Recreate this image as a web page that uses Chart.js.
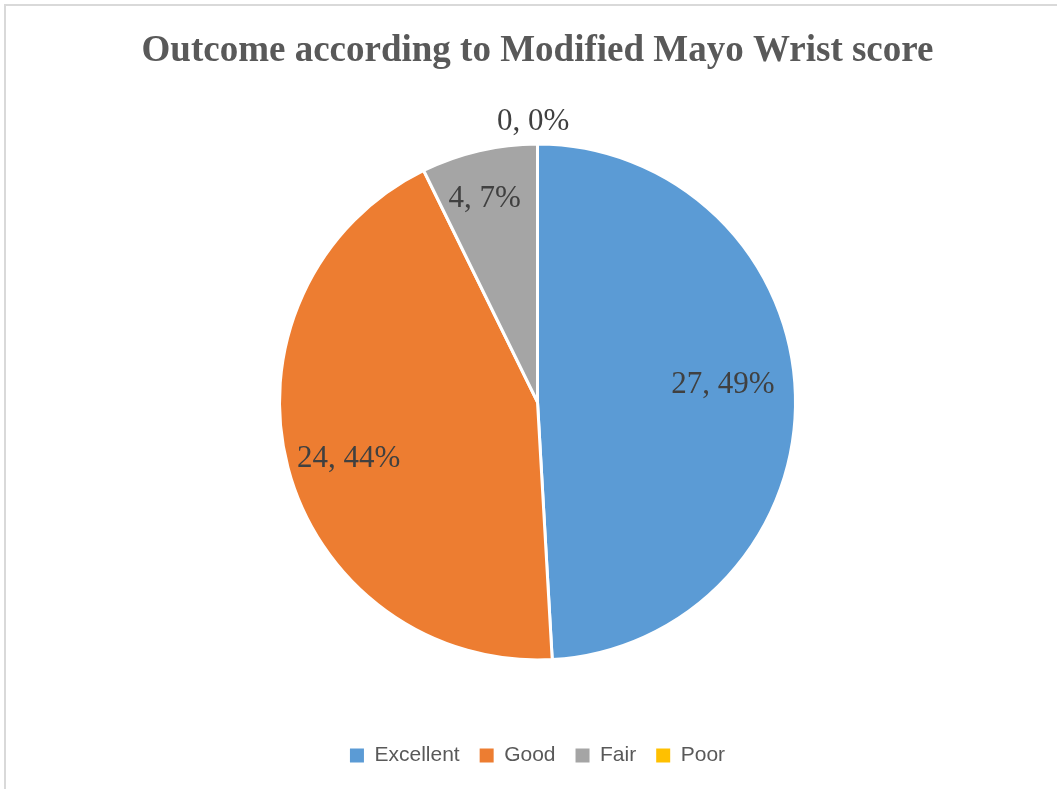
<!DOCTYPE html>
<html>
<head>
<meta charset="utf-8">
<title>Outcome according to Modified Mayo Wrist score</title>
<script src="https://cdn.jsdelivr.net/npm/chart.js@4/dist/chart.umd.min.js"></script>
<style>
  html, body { margin: 0; padding: 0; background: #fff; }
  #wrap { position: relative; width: 1057px; height: 789px; overflow: hidden; }
</style>
</head>
<body>
<div id="wrap"><canvas id="mayoChart" width="1057" height="789"></canvas></div>
<script>
// ========== DATA ==========
const categories = ['Excellent', 'Good', 'Fair', 'Poor'];
const patients = [27, 24, 4, 0];
const sliceColors = ['#5B9BD5', '#ED7D31', '#A5A5A5', '#FFC000'];

// label placement (fraction of radius, small turn in degrees) - Excel "best fit" look
const labelRadius = [0.723, 0.762, 0.824, 1.094];
const labelTurn = [-4.5, -1.3, -1.3, -0.9];

const total = patients.reduce((s, v) => s + v, 0);

// ========== PLUGINS ==========
const frame = {
  id: 'frame',
  beforeDraw(chart) {
    const { ctx, width, height } = chart;
    ctx.save();
    ctx.fillStyle = '#fff';
    ctx.fillRect(0, 0, width, height);
    ctx.fillStyle = '#d9d9d9';
    ctx.fillRect(4, 4, width - 4, 2);
    ctx.fillRect(4, 4, 2, height - 4);
    ctx.restore();
  }
};

const sliceLabels = {
  id: 'sliceLabels',
  afterDatasetsDraw(chart) {
    const { ctx } = chart;
    const meta = chart.getDatasetMeta(0);
    const size = 31;
    ctx.save();
    ctx.font = `${size}px "Liberation Serif", "Times New Roman", serif`;
    ctx.fillStyle = '#404040';
    ctx.textAlign = 'center';
    ctx.textBaseline = 'alphabetic';
    meta.data.forEach((arc, i) => {
      const { x, y, startAngle, endAngle, outerRadius } = arc.getProps(['x', 'y', 'startAngle', 'endAngle', 'outerRadius'], true);
      const mid = (startAngle + endAngle) / 2 + labelTurn[i] * Math.PI / 180;
      const r = outerRadius * labelRadius[i];
      const pct = total ? Math.round(patients[i] / total * 100) : 0;
      // baseline sits half a digit height below the anchor point
      ctx.fillText(`${patients[i]}, ${pct}%`, x + Math.cos(mid) * r, y + Math.sin(mid) * r + size * 0.338);
    });
    ctx.restore();
  }
};

// ========== CHART ==========
const pieOverrides = Chart.overrides.pie || Chart.overrides.doughnut;
const baseLabels = pieOverrides.plugins.legend.labels.generateLabels;

new Chart(document.getElementById('mayoChart'), {
  type: 'pie',
  data: {
    labels: categories,
    datasets: [{
      data: patients,
      backgroundColor: sliceColors,
      borderColor: '#fff',
      borderWidth: 3,
      radius: 258
    }]
  },
  options: {
    responsive: false,
    animation: false,
    layout: { padding: { left: 18, right: 0, top: 0, bottom: 13 } },
    plugins: {
      title: {
        display: true,
        text: 'Outcome according to Modified Mayo Wrist score',
        color: '#595959',
        font: { family: '"Liberation Serif", "Times New Roman", serif', size: 37, weight: 'bold', lineHeight: 1.2 },
        padding: { top: 29.5, bottom: 5.1 }
      },
      legend: {
        position: 'bottom',
        labels: {
          color: '#595959',
          font: { family: '"Liberation Sans", Arial, sans-serif', size: 21 },
          boxWidth: 14,
          boxHeight: 14,
          padding: 20,
          generateLabels(chart) {
            return baseLabels(chart).map(l => ({ ...l, lineWidth: 0, strokeStyle: 'rgba(0,0,0,0)' }));
          }
        }
      },
      tooltip: { enabled: false }
    }
  },
  plugins: [frame, sliceLabels]
});
</script>
</body>
</html>
